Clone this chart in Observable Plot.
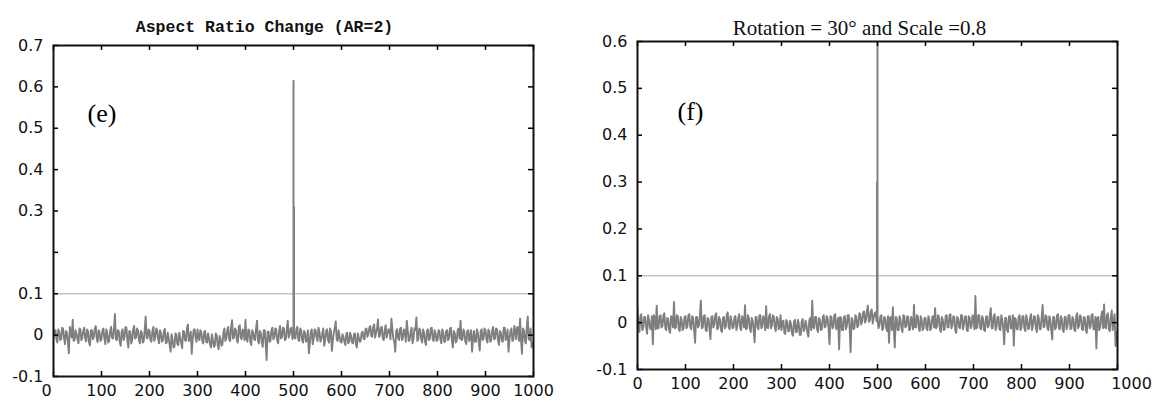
<!DOCTYPE html>
<html>
<head>
<meta charset="utf-8">
<script src="https://cdn.jsdelivr.net/npm/d3@7"></script>
<script src="https://cdn.jsdelivr.net/npm/@observablehq/plot@0.6"></script>
<style>
  body { margin: 0; background: #fff; }
  #wrap { position: relative; width: 1164px; height: 405px; overflow: hidden; background: #fff; }
  #left, #right { position: absolute; top: 0; }
  #left { left: 0; }
  #right { left: 580px; }
</style>
</head>
<body>
<div id="wrap"><div id="left"></div><div id="right"></div></div>
<script>
// ---- shared tick data ----
const xTicks = [0, 100, 200, 300, 400, 500, 600, 700, 800, 900, 1000];
const sampleStep = 4; // each array holds one value every 4 samples; the "B" arrays sit halfway between

// ---- panel (e): Aspect Ratio Change ----
const titleE = "Aspect Ratio Change (AR=2)";
const tagE = "(e)";
const yTicksE = [-0.1, 0, 0.1, 0.2, 0.3, 0.4, 0.5, 0.6, 0.7];
const yLabelsE = [0.7, 0.6, 0.5, 0.4, 0.3, 0.1, 0, -0.1];
const thresholdE = 0.1;
const spikeXE = [500, 501];
const spikeYE = [0.615, 0.31];
const noiseE = [
  -0.004, 0.012, -0.018, 0.008, -0.010, 0.015, -0.022, 0.006, -0.044, 0.010, 0.037, -0.012, 0.004, -0.020, 0.014, -0.006, 0.018, -0.015, 0.009, -0.025, 0.012, -0.004, 0.022, -0.017, 0.006,
  -0.010, 0.016, -0.022, 0.005, -0.014, 0.020, -0.008, 0.051, -0.012, 0.010, -0.026, 0.014, -0.005, 0.018, -0.030, 0.008, -0.012, 0.022, -0.006, 0.012, -0.020, 0.006, -0.014, 0.045, -0.008,
  0.010, -0.016, 0.020, -0.006, 0.012, -0.020, 0.004, -0.012, 0.015, -0.018, -0.008, -0.040, -0.010, -0.028, 0.002, -0.024, -0.006, -0.032, 0.008, -0.014, 0.026, -0.010, -0.045, 0.012, -0.006,
  0.014, -0.012, 0.006, -0.020, 0.010, -0.018, -0.008, -0.030, -0.012, -0.026, 0.000, -0.034, -0.010, -0.022, 0.016, -0.008, 0.020, -0.014, 0.036, -0.006, 0.012, -0.018, 0.024, -0.010, 0.008,
  0.037, -0.016, 0.010, -0.024, 0.006, -0.012, 0.035, -0.020, 0.004, -0.028, 0.012, -0.060, 0.008, -0.014, 0.018, -0.006, 0.014, -0.020, 0.022, -0.004, 0.016, -0.010, 0.035, 0.002, 0.018,
  0.010, -0.008, 0.020, -0.014, 0.012, -0.018, 0.006, -0.012, -0.044, 0.008, -0.022, 0.014, -0.006, 0.018, -0.016, 0.004, -0.026, 0.010, -0.012, 0.016, -0.038, 0.006, 0.033, -0.014, -0.004,
  -0.018, -0.004, -0.024, 0.006, -0.016, -0.002, -0.020, 0.004, -0.030, -0.006, -0.014, 0.008, -0.010, 0.016, 0.002, 0.022, -0.004, 0.026, 0.006, 0.038, -0.002, 0.020, -0.012, 0.024, 0.004,
  0.012, 0.040, -0.008, -0.040, 0.014, -0.012, 0.018, -0.006, 0.010, 0.035, -0.014, 0.008, -0.020, 0.016, 0.043, -0.010, 0.012, -0.018, 0.006, -0.024, 0.014, -0.008, 0.018, -0.014, 0.004,
  -0.012, 0.010, -0.020, 0.006, -0.016, 0.012, -0.008, 0.018, -0.030, 0.004, -0.014, 0.016, 0.035, -0.010, 0.008, -0.022, 0.012, -0.006, -0.040, 0.010, -0.016, 0.006, -0.037, 0.014, -0.008,
  0.012, -0.018, 0.008, -0.012, 0.020, -0.008, 0.014, -0.024, 0.006, -0.016, 0.018, -0.006, -0.040, 0.010, -0.014, 0.022, -0.010, 0.016, 0.040, -0.045, 0.012, -0.020, 0.045, -0.012, -0.030
];
const noiseEB = [
  0.006, -0.010, 0.014, -0.012, 0.018, -0.008, 0.010, -0.016, 0.020, -0.006, -0.014, 0.012, -0.010, 0.016, -0.012, 0.010, -0.008, 0.014, -0.018, 0.012, -0.010, 0.016, -0.008, 0.012, -0.014,
  0.012, -0.008, 0.014, -0.018, 0.010, -0.006, 0.016, -0.010, 0.012, -0.016, 0.008, -0.012, 0.020, -0.014, 0.010, -0.020, 0.014, -0.008, 0.016, -0.012, 0.010, -0.018, 0.012, -0.006, 0.014,
  -0.012, 0.010, -0.014, 0.016, -0.010, 0.012, -0.016, 0.010, -0.020, 0.006, -0.024, 0.002, -0.030, 0.004, -0.022, 0.006, -0.018, 0.010, -0.012, 0.016, -0.014, 0.008, -0.010, 0.014, -0.016,
  -0.006, 0.012, -0.014, 0.008, -0.016, 0.004, -0.022, 0.002, -0.028, 0.004, -0.024, -0.002, -0.026, 0.006, -0.014, 0.012, -0.010, 0.018, -0.008, 0.016, -0.012, 0.020, -0.006, 0.014, -0.012,
  -0.008, 0.014, -0.016, 0.012, -0.010, 0.016, -0.014, 0.010, -0.018, 0.012, -0.020, 0.008, -0.016, 0.012, -0.010, 0.016, -0.012, 0.010, -0.008, 0.018, -0.012, 0.014, -0.006, 0.016, -0.010,
  -0.006, 0.014, -0.010, 0.016, -0.012, 0.010, -0.016, 0.012, -0.020, 0.014, -0.010, 0.012, -0.014, 0.008, -0.010, 0.016, -0.012, 0.014, -0.018, 0.010, -0.012, 0.018, -0.010, 0.012, -0.016,
  0.002, -0.016, 0.004, -0.020, 0.006, -0.018, 0.002, -0.022, 0.004, -0.016, 0.006, -0.008, 0.014, -0.004, 0.018, -0.002, 0.020, -0.006, 0.016, -0.004, 0.018, -0.008, 0.012, -0.006, 0.014,
  -0.010, 0.014, -0.016, 0.010, -0.008, 0.016, -0.012, 0.014, -0.016, 0.010, -0.012, 0.018, -0.008, 0.012, -0.014, 0.016, -0.010, 0.014, -0.016, 0.010, -0.012, 0.016, -0.010, 0.012, -0.014,
  0.012, -0.010, 0.014, -0.016, 0.010, -0.012, 0.016, -0.014, 0.010, -0.018, 0.012, -0.008, -0.012, 0.014, -0.016, 0.010, -0.014, 0.012, -0.008, -0.016, 0.014, -0.018, 0.010, -0.012, 0.016,
  -0.010, 0.014, -0.016, 0.012, -0.010, 0.016, -0.012, 0.010, -0.014, 0.018, -0.012, 0.014, -0.010, 0.016, -0.012, 0.010, 0.020, -0.014, -0.012, 0.016, -0.014, 0.018, -0.010, 0.016, -0.020
];

// ---- panel (f): Rotation = 30° and Scale = 0.8 ----
const titleF = "Rotation = 30° and Scale =0.8";
const tagF = "(f)";
const yTicksF = [-0.1, 0, 0.1, 0.2, 0.3, 0.4, 0.5, 0.6];
const yLabelsF = [0.6, 0.5, 0.4, 0.3, 0.2, 0.1, 0, -0.1];
const thresholdF = 0.1;
const spikeXF = [500, 499];
const spikeYF = [0.6, 0.3];
const noiseF = [
  0.030, -0.020, 0.018, -0.010, 0.012, -0.024, 0.006, -0.014, -0.046, 0.010, 0.036, -0.012, 0.016, -0.008, 0.020, -0.016, 0.008, -0.022, 0.012, 0.044, -0.010, 0.014, -0.018, 0.006, -0.012,
  0.014, -0.008, 0.018, -0.014, 0.010, -0.043, 0.012, -0.006, 0.047, -0.010, 0.016, -0.018, 0.008, -0.035, 0.014, -0.004, 0.020, -0.012, 0.006, -0.020, 0.012, -0.008, 0.022, -0.014, 0.004,
  -0.010, 0.014, -0.006, 0.018, -0.016, 0.008, 0.037, -0.012, 0.010, -0.020, 0.004, -0.042, 0.012, -0.014, 0.016, -0.008, 0.010, 0.035, -0.012, 0.018, -0.006, 0.012, -0.018, 0.008, -0.010,
  -0.016, 0.004, -0.024, 0.002, -0.018, -0.004, -0.028, 0.006, -0.020, -0.002, -0.026, 0.008, -0.014, -0.004, -0.030, 0.010, 0.047, -0.012, 0.012, -0.020, 0.006, -0.014, 0.016, -0.008, 0.010,
  -0.046, 0.012, -0.010, 0.018, -0.006, -0.057, 0.010, -0.016, 0.014, -0.008, 0.016, -0.063, 0.006, -0.012, 0.012, -0.006, 0.018, 0.002, 0.024, 0.006, 0.036, 0.004, 0.028, 0.010, 0.022,
  0.008, -0.006, 0.016, -0.012, 0.010, -0.018, -0.043, 0.012, 0.033, -0.053, 0.010, -0.016, 0.006, -0.020, 0.014, -0.008, 0.012, -0.014, 0.004, 0.038, -0.010, 0.014, -0.018, 0.006, -0.012,
  0.010, -0.016, 0.006, -0.012, 0.014, 0.031, -0.008, 0.012, -0.020, 0.006, -0.014, 0.016, -0.010, 0.018, -0.006, 0.012, -0.022, 0.008, -0.012, 0.016, -0.004, 0.014, -0.018, 0.010, -0.008,
  0.012, 0.057, -0.010, 0.016, -0.014, 0.008, -0.018, 0.014, -0.006, 0.031, -0.012, 0.018, -0.008, 0.012, -0.016, 0.006, -0.046, 0.010, -0.020, 0.014, -0.012, -0.049, 0.008, -0.014, 0.016,
  -0.010, 0.014, -0.018, 0.006, -0.012, 0.018, -0.006, 0.012, -0.020, 0.010, -0.014, 0.038, -0.008, 0.014, -0.016, 0.006, -0.036, 0.012, -0.010, 0.018, -0.014, 0.008, -0.020, 0.012, -0.006,
  0.016, -0.012, 0.008, -0.018, 0.020, -0.006, 0.012, -0.016, 0.010, -0.022, 0.014, -0.008, 0.018, -0.014, -0.055, 0.012, -0.010, 0.024, 0.039, -0.012, 0.020, -0.018, 0.026, 0.004, -0.050
];
const noiseFB = [
  -0.012, 0.014, -0.016, 0.012, -0.010, 0.016, -0.012, 0.014, 0.016, -0.014, -0.012, 0.014, -0.010, 0.016, -0.012, 0.010, -0.016, 0.014, -0.010, -0.012, 0.016, -0.014, 0.012, -0.016, 0.012,
  -0.012, 0.016, -0.010, 0.014, -0.016, 0.012, -0.010, 0.016, -0.012, 0.014, -0.016, 0.010, -0.014, 0.012, -0.010, 0.016, -0.014, 0.012, -0.016, 0.010, -0.012, 0.016, -0.010, 0.014, -0.012,
  0.012, -0.016, 0.010, -0.012, 0.014, -0.010, -0.014, 0.016, -0.012, 0.010, -0.016, 0.012, -0.010, 0.016, -0.012, 0.014, -0.016, -0.010, 0.014, -0.012, 0.016, -0.010, 0.012, -0.014, 0.016,
  0.002, -0.022, 0.006, -0.018, 0.004, -0.024, 0.002, -0.020, 0.006, -0.026, 0.002, -0.018, 0.004, -0.022, 0.006, -0.016, -0.010, 0.012, -0.014, 0.010, -0.016, 0.012, -0.010, 0.014, -0.012,
  0.014, -0.012, 0.016, -0.014, 0.010, 0.012, -0.016, 0.012, -0.014, 0.016, -0.012, 0.010, -0.014, 0.016, -0.010, 0.020, -0.004, 0.022, 0.000, 0.026, 0.002, 0.024, -0.002, 0.020, 0.004,
  -0.012, 0.014, -0.016, 0.012, -0.010, 0.014, 0.010, -0.016, -0.014, 0.012, -0.016, 0.014, -0.012, 0.016, -0.010, 0.014, -0.016, 0.012, -0.014, -0.010, 0.016, -0.012, 0.014, -0.016, 0.010,
  -0.012, 0.014, -0.016, 0.012, -0.010, -0.012, 0.016, -0.014, 0.012, -0.016, 0.014, -0.010, 0.016, -0.012, 0.014, -0.016, 0.012, -0.010, 0.016, -0.014, 0.012, -0.016, 0.014, -0.012, 0.016,
  -0.014, -0.012, 0.016, -0.012, 0.014, -0.016, 0.012, -0.010, 0.016, -0.012, 0.014, -0.016, 0.012, -0.014, 0.016, -0.012, 0.010, -0.016, 0.014, -0.012, 0.016, 0.010, -0.014, 0.012, -0.016,
  0.014, -0.012, 0.016, -0.014, 0.012, -0.016, 0.014, -0.012, 0.016, -0.014, 0.012, -0.010, 0.016, -0.012, 0.014, -0.016, 0.012, -0.014, 0.016, -0.012, 0.014, -0.016, 0.012, -0.014, 0.016,
  -0.014, 0.012, -0.016, 0.014, -0.012, 0.016, -0.014, 0.012, -0.016, 0.014, -0.012, 0.016, -0.014, 0.012, 0.010, -0.016, 0.014, -0.012, -0.010, 0.016, -0.014, 0.012, -0.016, 0.018, -0.020
];

const fmt = d => String(d);
const tickFont = "DejaVu Sans, Verdana, sans-serif";

// interleave the two stored sample sets into one ordered series
function interleave(a, b) {
  return a.flatMap((v, i) => [{x: i * sampleStep, y: v}, {x: i * sampleStep + sampleStep / 2, y: b[i]}]);
}

function panel(cfg) {
  const innerW = cfg.width - cfg.ml - cfg.mr;
  const innerH = 405 - cfg.mt - cfg.mb;
  const spikes = cfg.spikeX.map((x, i) => ({x, y: cfg.spikeY[i]}));
  const series = interleave(cfg.noise, cfg.noiseB);
  const midLabels = xTicks.filter(d => !cfg.shiftTicks.includes(d));
  const endLabels = xTicks.filter(d => cfg.shiftTicks.includes(d));
  return Plot.plot({
    width: cfg.width,
    height: 405,
    marginLeft: cfg.ml,
    marginRight: cfg.mr,
    marginTop: cfg.mt,
    marginBottom: cfg.mb,
    x: {domain: [0, 1000], axis: null},
    y: {domain: cfg.yDomain, axis: null},
    style: {background: "#fff", overflow: "visible"},
    marks: [
      Plot.ruleY([cfg.threshold], {stroke: "#c4c4c4", strokeWidth: 1.5}),
      Plot.line(series, {x: "x", y: "y", stroke: "#7f7f7f", strokeWidth: 1.9, clip: true}),
      Plot.ruleX(spikes, {x: "x", y1: 0, y2: "y", stroke: "#808080", strokeWidth: 2, clip: true}),
      // inward ticks on all four sides
      Plot.tickX(xTicks, {x: d => d, insetTop: innerH - 5, stroke: "#000", strokeWidth: 1.5}),
      Plot.tickX(xTicks, {x: d => d, insetBottom: innerH - 5, stroke: "#000", strokeWidth: 1.5}),
      Plot.tickY(cfg.yTicks, {y: d => d, insetRight: innerW - 5, stroke: "#000", strokeWidth: 1.5}),
      Plot.tickY(cfg.yTicks, {y: d => d, insetLeft: innerW - 5, stroke: "#000", strokeWidth: 1.5}),
      Plot.frame({stroke: "#111", strokeWidth: 2}),
      // tick labels
      Plot.text(cfg.yLabels, {y: d => d, text: fmt, frameAnchor: "left", textAnchor: "end", dx: -10, fontSize: 16, fontFamily: tickFont, fill: "#111"}),
      Plot.text(midLabels, {x: d => d, text: fmt, frameAnchor: "bottom", lineAnchor: "top", dy: 8, fontSize: 16, fontFamily: tickFont, fill: "#111"}),
      Plot.text(endLabels, {x: d => d, text: fmt, frameAnchor: "bottom", lineAnchor: "top", dy: 8, dx: cfg.shiftDx, fontSize: 16, fontFamily: tickFont, fill: "#111"}),
      // title and tag
      Plot.text([cfg.title], {frameAnchor: "top", dy: cfg.titleDy, dx: cfg.titleDx, fontSize: cfg.titleSize, fontWeight: cfg.titleWeight, fontFamily: cfg.titleFont, fill: "#111"}),
      Plot.text([cfg.tag], {frameAnchor: "top-left", textAnchor: "start", dx: cfg.tagDx, dy: cfg.tagDy, fontSize: 26, fontFamily: "Liberation Serif, Times New Roman, serif", fill: "#000"})
    ]
  });
}

document.getElementById("left").appendChild(panel({
  width: 560, ml: 53, mr: 27, mt: 45, mb: 29,
  yDomain: [-0.1, 0.7], yTicks: yTicksE, yLabels: yLabelsE,
  threshold: thresholdE, noise: noiseE, noiseB: noiseEB, spikeX: spikeXE, spikeY: spikeYE,
  shiftTicks: [0], shiftDx: -7,
  title: titleE, titleDx: -29, titleDy: -25, titleSize: 16.5, titleWeight: "bold", titleFont: "Liberation Mono, Courier New, monospace",
  tag: tagE, tagDx: 34, tagDy: 58
}));

document.getElementById("right").appendChild(panel({
  width: 584, ml: 57, mr: 47, mt: 41, mb: 36,
  yDomain: [-0.1, 0.6], yTicks: yTicksF, yLabels: yLabelsF,
  threshold: thresholdF, noise: noiseF, noiseB: noiseFB, spikeX: spikeXF, spikeY: spikeYF,
  shiftTicks: [1000], shiftDx: 14,
  title: titleF, titleDx: -18, titleDy: -21, titleSize: 21, titleWeight: "normal", titleFont: "Liberation Serif, Times New Roman, serif",
  tag: tagF, tagDx: 40, tagDy: 60
}));
</script>
</body>
</html>
